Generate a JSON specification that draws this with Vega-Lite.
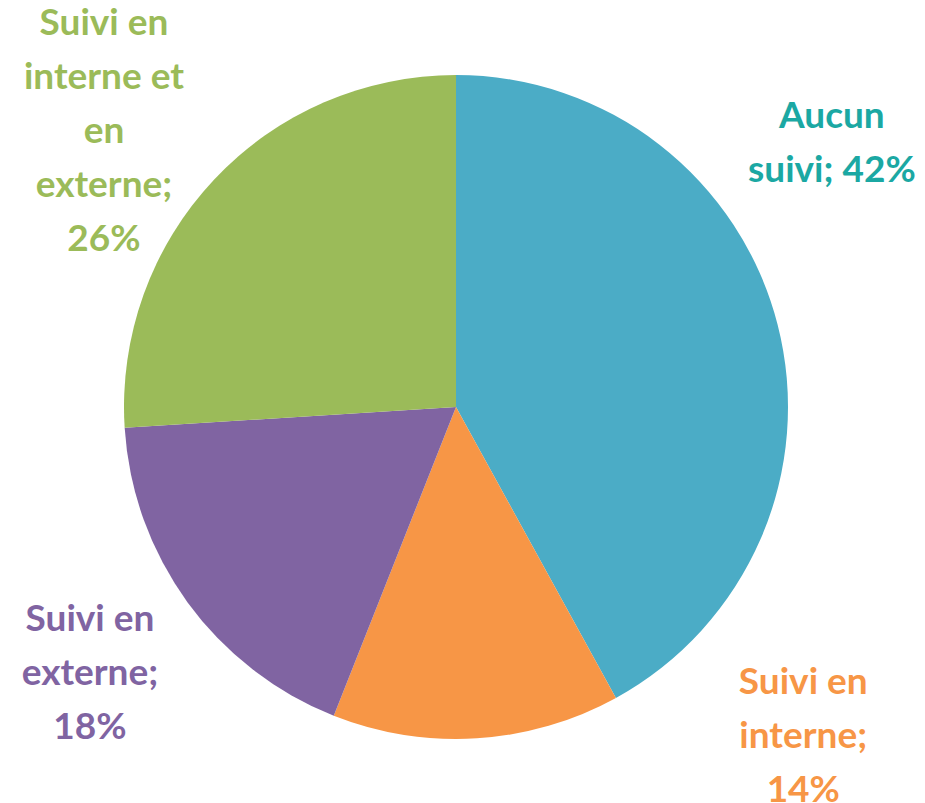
{
  "$schema": "https://vega.github.io/schema/vega-lite/v6.json",
  "width": 912,
  "height": 792,
  "autosize": {"type": "none"},
  "padding": {"left": 0, "right": 13, "top": 11, "bottom": 0},
  "background": "white",
  "view": {"stroke": null},
  "data": {
    "values": [
      {"categorie": "Aucun suivi", "label": "Aucun\nsuivi; 42%", "part": 42, "ordre": 1},
      {"categorie": "Suivi en interne", "label": "Suivi en\ninterne;\n14%", "part": 14, "ordre": 2},
      {"categorie": "Suivi en externe", "label": "Suivi en\nexterne;\n18%", "part": 18, "ordre": 3},
      {"categorie": "Suivi en interne et en externe", "label": "Suivi en\ninterne et\nen\nexterne;\n26%", "part": 26, "ordre": 4}
    ]
  },
  "encoding": {
    "theta": {"field": "part", "type": "quantitative", "stack": true},
    "order": {"field": "ordre", "type": "quantitative"}
  },
  "layer": [
    {
      "mark": {"type": "arc", "radius": 332},
      "encoding": {
        "color": {
          "field": "categorie",
          "type": "nominal",
          "scale": {
            "domain": ["Aucun suivi", "Suivi en interne", "Suivi en externe", "Suivi en interne et en externe"],
            "range": ["#4BACC6", "#F79646", "#8064A2", "#9BBB59"]
          },
          "legend": null
        }
      }
    },
    {
      "mark": {
        "type": "text",
        "radius": 450,
        "font": "Lato",
        "fontWeight": "bold",
        "fontSize": 37,
        "lineBreak": "\n",
        "lineHeight": 54,
        "align": "center",
        "baseline": "middle",
        "dx": {"expr": "datum.ordre === 1 ? -60 : datum.ordre === 2 ? 319 : datum.ordre === 3 ? -2 : -24"},
        "dy": {"expr": "datum.ordre === 1 ? -178 : datum.ordre === 2 ? -173 : datum.ordre === 3 ? -52 : -75"}
      },
      "encoding": {
        "text": {"field": "label", "type": "nominal"},
        "color": {
          "field": "categorie",
          "type": "nominal",
          "scale": {
            "domain": ["Aucun suivi", "Suivi en interne", "Suivi en externe", "Suivi en interne et en externe"],
            "range": ["#1BA8A3", "#F79646", "#8064A2", "#9BBB59"]
          },
          "legend": null
        }
      }
    }
  ],
  "resolve": {"scale": {"color": "independent"}}
}
